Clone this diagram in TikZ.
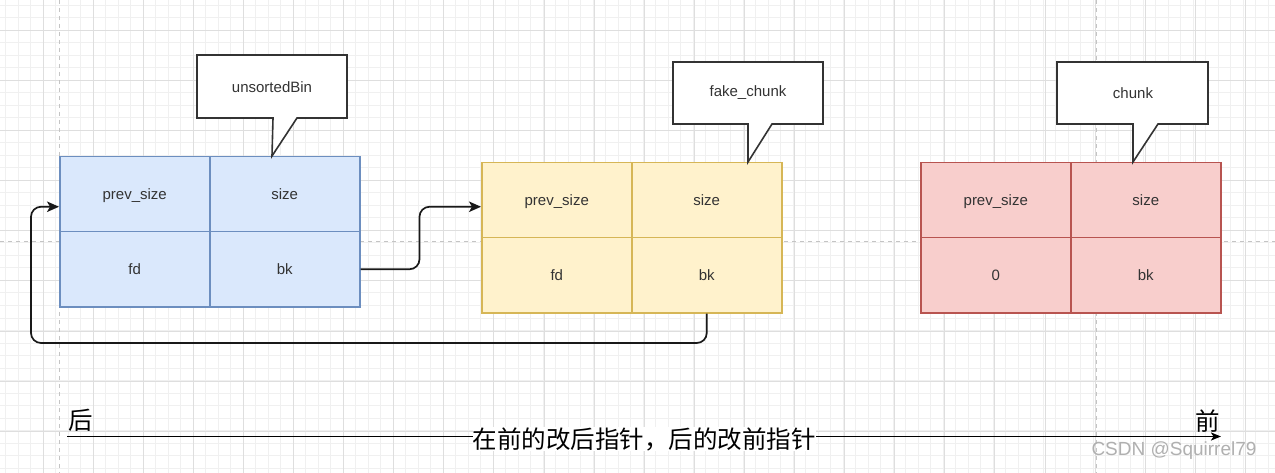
\documentclass[tikz,border=0pt]{standalone}
\usepackage{fontspec}
\setmainfont{Liberation Sans}
\newfontfamily\cjk{Noto Sans CJK SC}
\usetikzlibrary{arrows.meta,calc}
\definecolor{gridminor}{HTML}{F0F0F0}
\definecolor{gridmajor}{HTML}{DEDEDE}
\definecolor{guide}{HTML}{C4C4C4}
\definecolor{bluefill}{HTML}{DAE8FC}
\definecolor{blueline}{HTML}{6C8EBF}
\definecolor{yelfill}{HTML}{FFF2CC}
\definecolor{yelline}{HTML}{D6B656}
\definecolor{redfill}{HTML}{F8CECC}
\definecolor{redline}{HTML}{B85450}
\definecolor{txt}{HTML}{333333}
\definecolor{wm}{HTML}{B0B0B0}
\tikzset{
  cell/.style={draw, line width=1.5pt, minimum width=150pt, minimum height=75pt,
    inner sep=0pt, anchor=north west, text=txt, text height=11pt, text depth=0pt,
    font=\fontsize{15}{18}\selectfont},
  bluecell/.style={cell, fill=bluefill, draw=blueline},
  yelcell/.style={cell, fill=yelfill, draw=yelline},
  redcell/.style={cell, fill=redfill, draw=redline},
  callout/.style={draw=txt, line width=1.6pt, fill=white, line join=miter},
  calltext/.style={text=txt, font=\fontsize{15}{18}\selectfont, inner sep=0pt},
  conn/.style={draw=black!90, line width=1.7pt, rounded corners=10pt,
    -{Stealth[length=12pt,width=10.5pt,inset=3pt]}},
  guideline/.style={draw=guide, line width=1pt, dash pattern=on 4pt off 4pt},
  cjklabel/.style={font=\cjk\fontsize{24.5}{28}\selectfont, inner sep=0pt, text=black}
}
\begin{document}
\begin{tikzpicture}[x=1pt,y=-1pt]
\useasboundingbox (0,0) rectangle (1275,473);
\fill[white] (0,0) rectangle (1275,473);
\begin{scope}
  \clip (0,0) rectangle (1275,473);
  \foreach \i in {0,...,104} \draw[gridminor, line width=1pt] ({5.5+12.5*\i},0) -- ++(0,473);
  \foreach \j in {0,...,38} \draw[gridminor, line width=1pt] (0,{5.5+12.5*\j}) -- ++(1275,0);
  \foreach \i in {0,...,25} \draw[gridmajor, line width=1pt] ({43+50.1*\i},0) -- ++(0,473);
  \foreach \j in {0,...,9} \draw[gridmajor, line width=1pt] (0,{30.5+50.1*\j}) -- ++(1275,0);
  \draw[guideline] (59,0) -- (59,473);
  \draw[guideline] (1096,0) -- (1096,473);
  \draw[guideline] (0,241.5) -- (1275,241.5);
\end{scope}

% blue chunk
\node[bluecell] (b1) at (59,156) {prev\_size};
\node[bluecell] (b2) at (209,156) {size};
\node[bluecell] (b3) at (59,231) {fd};
\node[bluecell] (b4) at (209,231) {bk};
% yellow chunk
\node[yelcell] (y1) at (481,162) {prev\_size};
\node[yelcell] (y2) at (631,162) {size};
\node[yelcell] (y3) at (481,237) {fd};
\node[yelcell] (y4) at (631,237) {bk};
% red chunk
\node[redcell] (r1) at (920,162) {prev\_size};
\node[redcell] (r2) at (1070,162) {size};
\node[redcell] (r3) at (920,237) {0};
\node[redcell] (r4) at (1070,237) {bk};

% callouts
\draw[callout] (197,55) -- (347,55) -- (347,118) -- (297,118) -- (272,156) -- (273,118) -- (197,118) -- cycle;
\node[calltext] (cu) at (272,87) {unsortedBin};
\draw[callout] (673,62) -- (823,62) -- (823,124) -- (772,124) -- (748,162) -- (748,124) -- (673,124) -- cycle;
\node[calltext] (cf) at (748,93) {fake\_chunk};
\draw[callout] (1057,62) -- (1208,62) -- (1208,124) -- (1158,124) -- (1133,162) -- (1133,124) -- (1057,124) -- cycle;
\node[calltext] (cc) at (1133,93) {chunk};

% connectors
\draw[conn] (b4.east) -- ++(59,0) |- ([yshift=-6.5pt]y1.west);
\coordinate (loopL) at (31,343);
\draw[conn] (y4.south) |- (loopL) |- ([yshift=-12.5pt]b1.west);

% bottom axis
\coordinate (axL) at (67,436.5);
\coordinate (axR) at (1221,436.5);
\draw[line width=1.8pt, -{Stealth[length=10pt,width=8pt,inset=2.5pt]}] (axL) -- (axR);
\node[cjklabel, fill=white] (mid) at (644,439) {在前的改后指针，后的改前指针};
\node[cjklabel] (hou) at (81,420.5) {后};
\node[cjklabel] (qian) at (1208,421) {前};
\node[text=wm, font=\fontsize{19}{22}\selectfont, inner sep=0pt] (wmk) at (1174,451) {CSDN @Squirrel79};
\end{tikzpicture}
\end{document}
